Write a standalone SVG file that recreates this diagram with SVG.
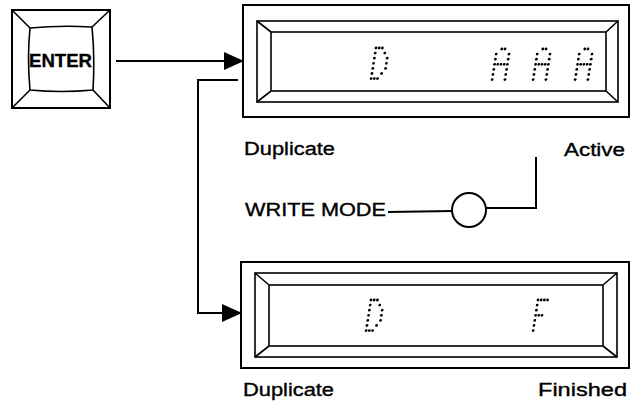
<svg xmlns="http://www.w3.org/2000/svg" xmlns:xlink="http://www.w3.org/1999/xlink" width="632" height="411" viewBox="0 0 632 411">
<style>
.ln{fill:none;stroke:#000;stroke-width:2;stroke-linejoin:miter}
.thin{fill:none;stroke:#000;stroke-width:1.6}
.lbl{font-family:"Liberation Sans",Arial,sans-serif;font-size:18px;fill:#000;stroke:#000;stroke-width:0.35}
.dot circle{fill:#000}
</style>
<defs>
<marker id="ah" markerUnits="userSpaceOnUse" markerWidth="20" markerHeight="18" viewBox="0 0 20 18" refX="19" refY="9" orient="auto">
<path d="M0,0 L20,9 L0,18 Z" fill="#000"/>
</marker>
<g id="gD" class="dot"><circle cx="0" cy="0" r="1.4"/><circle cx="3.2" cy="0" r="1.4"/><circle cx="6.4" cy="0" r="1.4"/><circle cx="0" cy="5.1" r="1.4"/><circle cx="9.6" cy="5.1" r="1.4"/><circle cx="0" cy="10.2" r="1.4"/><circle cx="12.8" cy="10.2" r="1.4"/><circle cx="0" cy="15.3" r="1.4"/><circle cx="12.8" cy="15.3" r="1.4"/><circle cx="0" cy="20.4" r="1.4"/><circle cx="12.8" cy="20.4" r="1.4"/><circle cx="0" cy="25.5" r="1.4"/><circle cx="9.6" cy="25.5" r="1.4"/><circle cx="0" cy="30.6" r="1.4"/><circle cx="3.2" cy="30.6" r="1.4"/><circle cx="6.4" cy="30.6" r="1.4"/></g>
<g id="gA" class="dot"><circle cx="4.8" cy="0" r="1.4"/><circle cx="8" cy="0" r="1.4"/><circle cx="0" cy="5.1" r="1.4"/><circle cx="12.8" cy="5.1" r="1.4"/><circle cx="0" cy="10.2" r="1.4"/><circle cx="12.8" cy="10.2" r="1.4"/><circle cx="0" cy="15.3" r="1.4"/><circle cx="3.2" cy="15.3" r="1.4"/><circle cx="6.4" cy="15.3" r="1.4"/><circle cx="9.6" cy="15.3" r="1.4"/><circle cx="12.8" cy="15.3" r="1.4"/><circle cx="0" cy="20.4" r="1.4"/><circle cx="12.8" cy="20.4" r="1.4"/><circle cx="0" cy="25.5" r="1.4"/><circle cx="12.8" cy="25.5" r="1.4"/><circle cx="0" cy="30.6" r="1.4"/><circle cx="12.8" cy="30.6" r="1.4"/></g>
<g id="gF" class="dot"><circle cx="0" cy="0" r="1.4"/><circle cx="3.2" cy="0" r="1.4"/><circle cx="6.4" cy="0" r="1.4"/><circle cx="9.6" cy="0" r="1.4"/><circle cx="0" cy="5.1" r="1.4"/><circle cx="0" cy="10.2" r="1.4"/><circle cx="0" cy="15.3" r="1.4"/><circle cx="3.2" cy="15.3" r="1.4"/><circle cx="6.4" cy="15.3" r="1.4"/><circle cx="0" cy="20.4" r="1.4"/><circle cx="0" cy="25.5" r="1.4"/><circle cx="0" cy="30.6" r="1.4"/></g>
</defs>
<rect width="632" height="411" fill="#fff"/>

<g id="enter-key">
<rect class="ln" x="12" y="10" width="98" height="98"/>
<path class="thin" d="M30,28 Q61,25 92,27 Q95,58 93,90 Q61,93 30,90 Q27,58 30,28 Z"/>
<path class="thin" d="M12,10 L30,28 M110,10 L92,27 M12,108 L30,90 M110,108 L93,90"/>
<text class="lbl" x="29" y="67" font-weight="bold" font-size="17" textLength="63" lengthAdjust="spacingAndGlyphs">ENTER</text>
</g>

<g id="display-active">
<rect class="ln" x="243" y="5" width="386" height="112"/>
<rect class="thin" x="257" y="21" width="361" height="81"/>
<rect class="thin" x="271" y="32" width="335" height="59"/>
<path class="thin" d="M257,21 L271,32 M618,21 L606,32 M257,102 L271,91 M618,102 L606,91"/>
<use xlink:href="#gD" transform="translate(376,48) skewX(-9)"/>
<use xlink:href="#gA" transform="translate(497,49) skewX(-9)"/>
<use xlink:href="#gA" transform="translate(538,49) skewX(-9)"/>
<use xlink:href="#gA" transform="translate(580,49) skewX(-9)"/>
</g>

<g id="display-finished">
<rect class="ln" x="241" y="262" width="388" height="106"/>
<rect class="thin" x="255" y="273" width="362" height="84"/>
<rect class="thin" x="269" y="285" width="334" height="61"/>
<path class="thin" d="M255,273 L269,285 M617,273 L603,285 M255,357 L269,346 M617,357 L603,346"/>
<use xlink:href="#gD" transform="translate(371,300) skewX(-9)"/>
<use xlink:href="#gF" transform="translate(538,300) skewX(-9)"/>
</g>

<g id="labels">
<text class="lbl" x="244" y="155" textLength="91" lengthAdjust="spacingAndGlyphs">Duplicate</text>
<text class="lbl" x="564" y="156" textLength="61" lengthAdjust="spacingAndGlyphs">Active</text>
<text class="lbl" x="243" y="396" textLength="91" lengthAdjust="spacingAndGlyphs">Duplicate</text>
<text class="lbl" x="538" y="396" textLength="89" lengthAdjust="spacingAndGlyphs">Finished</text>
</g>

<g id="write-mode">
<text class="lbl" x="245" y="216" textLength="141" lengthAdjust="spacingAndGlyphs">WRITE MODE</text>
<circle class="ln" cx="469" cy="210" r="17"/>
</g>

<g id="connectors">
<line class="ln" x1="116" y1="61" x2="243" y2="61" marker-end="url(#ah)"/>
<polyline class="ln" points="238,80 198,80 198,313 241,313" marker-end="url(#ah)"/>
<line class="ln" x1="388" y1="212" x2="452" y2="211"/>
<polyline class="ln" points="486,208 536,208 536,157"/>
</g>
</svg>
